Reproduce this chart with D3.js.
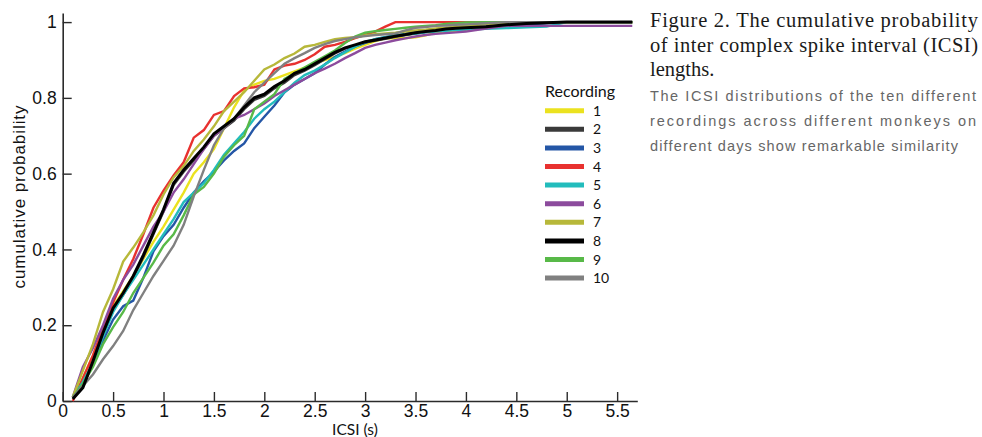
<!DOCTYPE html>
<html>
<head>
<meta charset="utf-8">
<script src="https://cdn.jsdelivr.net/npm/d3@7/dist/d3.min.js"></script>
<style>
  html, body { margin: 0; padding: 0; background: #fff; }
  svg { display: block; }
</style>
</head>
<body>
<svg id="chart" width="982" height="437"></svg>
<script>
// ICSI sample points (seconds) shared by every recording
const icsi = [0.1,0.2,0.3,0.4,0.5,0.6,0.7,0.8,0.9,1.0,
              1.1,1.2,1.3,1.4,1.5,1.6,1.7,1.8,1.9,2.0,
              2.1,2.2,2.3,2.4,2.5,2.6,2.7,2.8,2.9,3.0,
              3.1,3.2,3.3,3.4,3.5,3.6,3.7,3.8,3.9,4.0,
              4.2,4.4,4.6,4.8,5.0,5.2,5.4,5.65];

// Cumulative probability for each recording
const rec1 = [0.01,0.06,0.12,0.19,0.25,0.29,0.33,0.375,0.42,0.46,
              0.505,0.55,0.60,0.63,0.665,0.72,0.775,0.82,0.835,0.845,
              0.85,0.86,0.87,0.88,0.892,0.90,0.908,0.918,0.93,0.94,
              0.95,0.957,0.957,0.958,0.96,0.965,0.972,0.975,0.977,0.979,
              0.988,0.994,0.998,1,1,1,1,1];
const rec2 = [0.01,0.04,0.10,0.175,0.24,0.28,0.325,0.38,0.44,0.50,
              0.57,0.605,0.635,0.665,0.70,0.72,0.74,0.77,0.795,0.805,
              0.825,0.84,0.86,0.872,0.886,0.902,0.917,0.93,0.938,0.946,
              0.951,0.956,0.961,0.966,0.97,0.974,0.977,0.98,0.983,0.985,
              0.988,0.992,0.995,0.998,1,1,1,1];
const rec3 = [0.01,0.05,0.095,0.16,0.215,0.25,0.265,0.325,0.395,0.435,
              0.465,0.51,0.55,0.58,0.605,0.635,0.66,0.68,0.72,0.75,
              0.78,0.815,0.835,0.85,0.865,0.888,0.908,0.922,0.935,0.945,
              0.955,0.96,0.965,0.968,0.972,0.975,0.978,0.98,0.983,0.985,
              0.988,0.99,0.994,0.997,1,1,1,1];
const rec4 = [0.00,0.06,0.12,0.19,0.26,0.32,0.375,0.44,0.51,0.555,
              0.595,0.63,0.695,0.715,0.755,0.765,0.805,0.825,0.828,0.835,
              0.875,0.885,0.89,0.90,0.915,0.935,0.94,0.948,0.958,0.966,
              0.975,0.988,1,1,1,1,1,1,1,1,
              1,1,1,1,1,1,1,1];
const rec5 = [0.01,0.05,0.10,0.17,0.235,0.28,0.32,0.36,0.40,0.44,
              0.48,0.525,0.55,0.575,0.61,0.65,0.68,0.71,0.745,0.77,
              0.79,0.815,0.84,0.86,0.872,0.888,0.905,0.92,0.935,0.948,
              0.955,0.96,0.965,0.968,0.97,0.973,0.975,0.977,0.979,0.98,
              0.982,0.984,0.986,0.988,1,1,1,1];
const rec6 = [0.01,0.09,0.14,0.20,0.27,0.32,0.36,0.41,0.46,0.50,
              0.55,0.585,0.625,0.665,0.70,0.72,0.745,0.755,0.77,0.785,
              0.805,0.82,0.835,0.85,0.865,0.877,0.89,0.905,0.918,0.932,
              0.94,0.946,0.952,0.957,0.962,0.966,0.969,0.971,0.973,0.975,
              0.983,0.99,0.99,0.99,0.99,0.99,0.99,0.99];
const rec7 = [0.01,0.08,0.15,0.235,0.295,0.368,0.405,0.445,0.49,0.545,
              0.59,0.62,0.66,0.69,0.725,0.765,0.79,0.815,0.845,0.875,
              0.888,0.905,0.917,0.935,0.94,0.948,0.955,0.958,0.96,0.965,
              0.968,0.97,0.972,0.975,0.978,0.98,0.983,0.985,0.988,0.99,
              0.995,0.998,1,1,1,1,1,1];
const rec8 = [0.005,0.035,0.105,0.18,0.245,0.285,0.33,0.385,0.445,0.505,
              0.575,0.61,0.64,0.67,0.705,0.725,0.745,0.775,0.80,0.81,
              0.83,0.845,0.865,0.875,0.89,0.905,0.92,0.932,0.94,0.948,
              0.953,0.958,0.963,0.967,0.972,0.975,0.978,0.982,0.984,0.985,
              0.988,0.993,0.996,0.998,1,1,1,1];
const rec9 = [0.01,0.045,0.09,0.15,0.195,0.235,0.285,0.325,0.365,0.41,
              0.44,0.49,0.545,0.565,0.60,0.645,0.675,0.70,0.77,0.79,
              0.81,0.85,0.865,0.88,0.895,0.91,0.925,0.945,0.962,0.972,
              0.976,0.979,0.982,0.985,0.988,0.99,0.992,0.995,0.997,0.999,
              1,1,1,1,1,1,1,1];
const rec10 = [0.01,0.04,0.07,0.11,0.145,0.185,0.24,0.285,0.33,0.37,
               0.41,0.465,0.54,0.61,0.675,0.72,0.745,0.78,0.815,0.84,
               0.865,0.89,0.905,0.918,0.932,0.942,0.95,0.955,0.96,0.963,
               0.966,0.968,0.97,0.978,0.985,0.987,0.99,0.991,0.993,0.994,
               0.997,1,1,1,1,1,1,1];

const recordings = ["1","2","3","4","5","6","7","8","9","10"];
const recValues  = [rec1, rec2, rec3, rec4, rec5, rec6, rec7, rec8, rec9, rec10];
const recColors  = ["#ebe21f","#3a3a3a","#2456a6","#e8312f","#22bcbc",
                    "#8c4b9d","#b7b83a","#000000","#58b948","#808080"];
// draw order: black recording last so it sits on top
const drawOrder  = [0,1,2,3,4,5,6,8,9,7];

const xTicks = [0,0.5,1,1.5,2,2.5,3,3.5,4,4.5,5,5.5];
const xTickLabels = ["0","0.5","1","1.5","2","2.5","3","3.5","4","4.5","5","5.5"];
const yTicks = [0,0.2,0.4,0.6,0.8,1];
const yTickLabels = ["0","0.2","0.4","0.6","0.8","1"];

const captionTitle = ["Figure 2. The cumulative probability",
                      "of inter complex spike interval (ICSI)",
                      "lengths."];
const captionBody  = ["The ICSI distributions of the ten different",
                      "recordings across different monkeys on",
                      "different days show remarkable similarity"];

const svg = d3.select("#chart");

const x = d3.scaleLinear().domain([0, 5.7]).range([62.7, 637.3]);
const y = d3.scaleLinear().domain([0, 1.024]).range([401, 13]);

// axes
const axisFont = "'Liberation Sans', Arial, Helvetica, sans-serif";
const gx = svg.append("g")
  .attr("transform", `translate(0,${y(0)})`)
  .call(d3.axisBottom(x).tickValues(xTicks)
        .tickFormat((d, i) => xTickLabels[i])
        .tickSizeInner(-9).tickSizeOuter(0).tickPadding(4));
const gy = svg.append("g")
  .attr("transform", `translate(${x(0)},0)`)
  .call(d3.axisLeft(y).tickValues(yTicks)
        .tickFormat((d, i) => yTickLabels[i])
        .tickSizeInner(-9).tickSizeOuter(0).tickPadding(6));
[gx, gy].forEach(g => {
  g.select(".domain").attr("stroke", "#2b2b2b").attr("stroke-width", 1.6);
  g.selectAll(".tick line").attr("stroke", "#2b2b2b").attr("stroke-width", 1.4);
  g.selectAll(".tick text").attr("fill", "#111")
    .style("font-family", axisFont).style("font-size", "17.5px");
});

// curves
const line = d3.line()
  .x((d, i) => x(icsi[i]))
  .y(d => y(d));
svg.append("g").selectAll("path")
  .data(drawOrder)
  .join("path")
  .attr("d", k => line(recValues[k]))
  .attr("fill", "none")
  .attr("stroke", k => recColors[k])
  .attr("stroke-width", k => k === 7 ? 3 : 2.4)
  .attr("stroke-linejoin", "miter");

// axis titles
svg.append("text")
  .attr("transform", "translate(25,197) rotate(-90)")
  .attr("text-anchor", "middle")
  .attr("textLength", 183)
  .attr("lengthAdjust", "spacing")
  .style("font-family", axisFont).style("font-size", "17px")
  .attr("fill", "#111")
  .text("cumulative probability");
svg.append("text")
  .attr("x", 355).attr("y", 435)
  .attr("text-anchor", "middle")
  .style("font-family", "Lato, 'Open Sans', sans-serif").style("font-size", "15.5px")
  .attr("fill", "#111")
  .text("ICSI (s)");

// legend
const legend = svg.append("g");
legend.append("text")
  .attr("x", 545).attr("y", 97)
  .style("font-family", "Lato, 'Open Sans', sans-serif").style("font-size", "16px")
  .attr("fill", "#111")
  .text("Recording");
const items = legend.selectAll("g.item")
  .data(recordings)
  .join("g")
  .attr("class", "item")
  .attr("transform", (d, i) => `translate(0,${110.7 + i * 18.6})`);
items.append("line")
  .attr("x1", 545).attr("x2", 584)
  .attr("stroke", (d, i) => recColors[i])
  .attr("stroke-width", 5);
items.append("text")
  .attr("x", 593).attr("y", 5)
  .style("font-family", "Lato, 'Open Sans', sans-serif").style("font-size", "14px")
  .attr("fill", "#111")
  .text(d => d);

// caption
const cap = svg.append("g");
cap.selectAll("text.title")
  .data(captionTitle)
  .join("text")
  .attr("class", "title")
  .attr("x", 650)
  .attr("y", (d, i) => 27 + i * 24.5)
  .attr("textLength", (d, i) => i < 2 ? 328 : null)
  .attr("lengthAdjust", "spacing")
  .style("font-family", "'Liberation Serif', 'Times New Roman', serif")
  .style("font-size", "20.5px")
  .attr("fill", "#1a1a1a")
  .text(d => d);
cap.selectAll("text.body")
  .data(captionBody)
  .join("text")
  .attr("class", "body")
  .attr("x", 650)
  .attr("y", (d, i) => 101 + i * 25)
  .attr("textLength", (d, i) => i < 2 ? 326 : 308)
  .attr("lengthAdjust", "spacing")
  .style("font-family", "'Liberation Sans', Arial, sans-serif")
  .style("font-size", "14.5px")
  .attr("fill", "#666")
  .text(d => d);
</script>
</body>
</html>
